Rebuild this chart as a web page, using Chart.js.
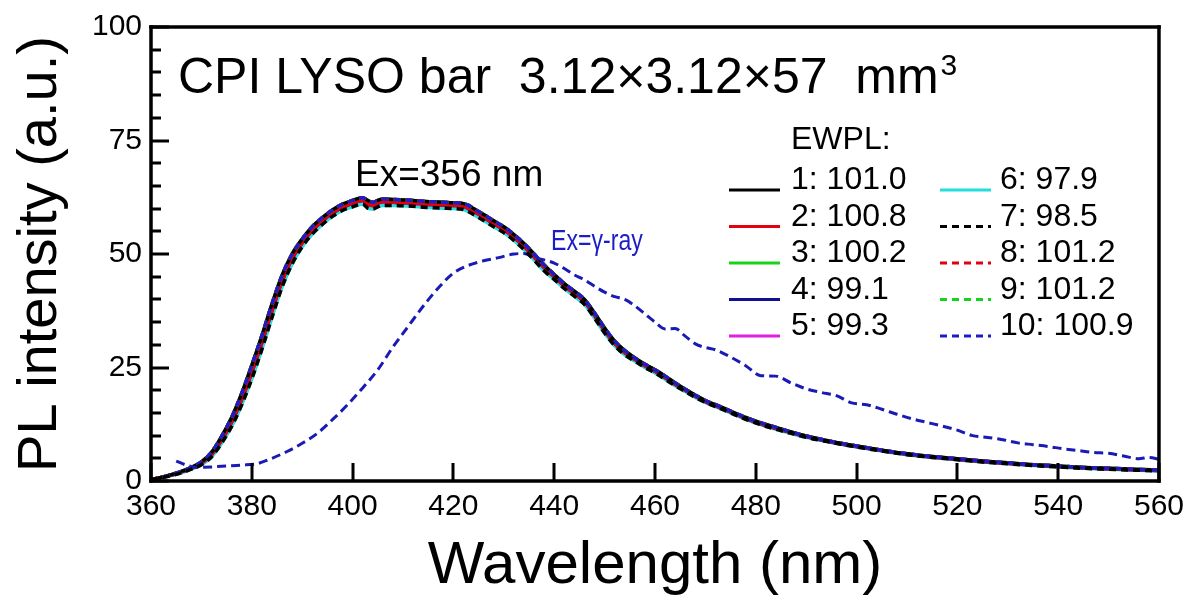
<!DOCTYPE html>
<html>
<head>
<meta charset="utf-8">
<title>CPI LYSO PL spectra</title>
<script src="https://cdn.jsdelivr.net/npm/chart.js@4.4.0/dist/chart.umd.min.js"></script>
<style>
  body { margin: 0; background: #fff; }
</style>
</head>
<body>
<canvas id="myChart" width="1192" height="605"></canvas>
<script>
// PL spectra, Ex=356 nm, ten bars (they nearly overlap)
const wavelengths = [360,362,364,366,368, 370,372,374,376,378, 380,382,384,386,388, 390,392,394,396,398,
  400,401,402,403,404, 405,406,408,410,412, 414,416,418,420,422, 423,424,426,428,430,
  432,434,436,438,440, 442,444,446,448,450, 452,454,456,458,460, 462,464,466,468,470,
  472,475,478,481,484, 487,490,495,500,505, 510,515,520,525,530, 535,540,545,550,555, 560];

const plUpper = [0.3,0.8,1.4,2.1,3.0, 4.2,6.3,9.8,14.0,19.3, 25.5,32.0,39.0,45.3,50.0, 53.3,56.0,58.0,59.7,61.0,
  61.8,62.2,62.4,61.8,61.4, 61.8,62.1,62.0,61.9,61.8, 61.6,61.5,61.4,61.3,61.1, 60.7,60.0,58.7,57.3,56.0,
  54.3,52.3,50.0,47.6,45.5, 43.5,41.8,40.0,37.0,33.7, 30.8,28.7,27.1,25.7,24.5, 23.1,21.6,20.2,18.9,17.7,
  16.8,15.4,14.0,12.8,11.8, 10.8,9.9,8.7,7.7,6.8, 6.0,5.4,4.9,4.4,4.0, 3.6,3.3,3.0,2.8,2.6, 2.4];

const plMiddle = [0.3,0.8,1.3,2.0,2.8, 3.9,5.8,9.0,13.0,18.0, 24.0,30.5,37.5,44.0,49.0, 52.5,55.2,57.3,59.0,60.3,
  61.2,61.6,61.8,61.0,60.7, 61.2,61.5,61.4,61.3,61.2, 61.0,60.9,60.8,60.7,60.5, 60.0,59.4,58.1,56.7,55.4,
  53.7,51.7,49.4,47.0,45.0, 43.0,41.3,39.5,36.5,33.2, 30.3,28.3,26.8,25.4,24.2, 22.8,21.3,20.0,18.7,17.5,
  16.6,15.2,13.8,12.6,11.6, 10.7,9.8,8.6,7.6,6.7, 5.9,5.3,4.8,4.3,3.9, 3.5,3.2,2.9,2.7,2.5, 2.3];

const plLower = [0.3,0.7,1.2,1.8,2.6, 3.6,5.3,8.3,12.0,16.8, 22.5,29.0,36.0,42.7,47.8, 51.6,54.4,56.5,58.3,59.6,
  60.4,60.8,61.0,60.1,59.9, 60.4,60.7,60.7,60.6,60.5, 60.3,60.2,60.1,60.0,59.8, 59.3,58.7,57.4,56.0,54.7,
  53.0,51.0,48.7,46.3,44.4, 42.4,40.7,38.9,35.9,32.6, 29.8,27.8,26.4,25.0,23.8, 22.4,21.0,19.7,18.4,17.3,
  16.4,15.0,13.6,12.4,11.4, 10.5,9.6,8.5,7.5,6.6, 5.8,5.2,4.7,4.2,3.8, 3.4,3.1,2.8,2.6,2.4, 2.2];

// gamma-ray excited emission
const gammaWavelengths = [365,367,369,372,375, 378,381,384,387,390, 393,396,399,402,405, 408,411,414,417,420,
  423,426,429,432,434, 436,438,440,442,444, 446,448,450,452,454, 456,458,460,462,464,
  466,468,470,472,475, 478,481,484,487,490, 493,496,499,502,505, 508,511,514,517,520,
  523,526,529,532,535, 538,541,544,547,550, 553,556,558,560];

const gammaPL = [4.4,3.5,3.0,3.1,3.3, 3.5,3.8,5.0,6.5,8.3, 10.5,13.5,16.8,20.5,24.5, 29.5,34.0,38.5,42.5,45.8,
  47.5,48.5,49.2,50.0,50.1, 49.2,48.7,48.0,46.8,45.4, 44.3,42.9,41.6,40.6,40.0, 38.6,36.8,35.0,33.5,33.6,
  31.9,30.2,29.4,28.9,27.3, 25.4,23.2,23.1,21.6,20.3, 19.5,18.8,17.2,16.8,15.8, 14.7,13.7,12.9,12.1,11.2,
  10.0,9.6,9.1,8.4,8.0, 7.6,7.1,6.7,6.3,6.1, 5.5,4.9,5.2,4.8];

const ewplLabels = ['1: 101.0','2: 100.8','3: 100.2','4: 99.1','5: 99.3','6: 97.9','7: 98.5','8: 101.2','9: 101.2','10: 100.9'];
const xTickValues = [360,380,400,420,440,460,480,500,520,540,560];
const yTickValues = [0,25,50,75,100];

// which of the three measured bundle curves each bar follows
const seriesCurve = [plUpper, plMiddle, plUpper, plMiddle, plMiddle, plLower, plLower, plUpper, plUpper, plUpper];
const seriesColor = ['#000000','#e3000f','#16d416','#101090','#e020e0','#22dede','#000000','#e3000f','#16d416','#1c1cc8'];
const dashed = [7, 5];
const seriesDash = [[],[],[],[],[],[],dashed,dashed,dashed,dashed];
// lower order is painted on top
const seriesOrder = [2, 2, 2, 2, 2, 3, 0, 1, 1, 0];

const FONT = '"Liberation Sans", Arial, sans-serif';

function toPoints(xs, ys){
    return xs.map((x, i) => ({x: x, y: ys[i]}));
}

const decorations = {
  id: 'decorations',
  afterDraw(chart){
    const ctx = chart.ctx;
    const area = chart.chartArea;
    const xs = chart.scales.x;
    const ys = chart.scales.y;
    ctx.save();
    ctx.setLineDash([]);
    ctx.fillStyle = '#000';

    // inward tick marks
    xs.ticks.forEach(t => {
        const px = Math.round(xs.getPixelForValue(t.value));
        ctx.fillRect(px - 1.5, area.bottom - 18, 3, 18);
    });
    ys.ticks.forEach(t => {
        const py = Math.round(ys.getPixelForValue(t.value));
        const len = yTickValues.includes(t.value) ? 18 : 10;
        ctx.fillRect(area.left, py - 1.5, len, 3);
    });

    // frame
    const w = 3.5;
    ctx.fillRect(area.left - w / 2, area.top - w / 2, area.right - area.left + w, w);
    ctx.fillRect(area.left - w / 2, area.bottom - w / 2, area.right - area.left + w, w);
    ctx.fillRect(area.left - w / 2, area.top - w / 2, w, area.bottom - area.top + w);
    ctx.fillRect(area.right - w / 2, area.top - w / 2, w, area.bottom - area.top + w);

    // title with superscript
    ctx.textBaseline = 'alphabetic';
    ctx.font = '50px ' + FONT;
    const title = 'CPI LYSO bar  3.12\u00d73.12\u00d757  mm';
    ctx.fillText(title, 178, 93);
    const tw = ctx.measureText(title).width;
    ctx.font = '30px ' + FONT;
    ctx.fillText('3', 178 + tw + 2, 75);

    // curve annotations
    ctx.font = '37px ' + FONT;
    ctx.fillText('Ex=356 nm', 355, 186);
    ctx.save();
    ctx.fillStyle = '#1c1cc8';
    ctx.font = '30px ' + FONT;
    ctx.translate(551, 250);
    ctx.scale(0.77, 1);
    ctx.fillText('Ex=\u03b3-ray', 0, 0);
    ctx.restore();

    // legend, two columns of five
    ctx.font = '32px ' + FONT;
    ctx.fillText('EWPL:', 791, 149);
    ewplLabels.forEach((lab, i) => {
        const col = i < 5 ? 0 : 1;
        const row = i % 5;
        const y = 189 + row * 36.5;
        const lx = col == 0 ? 729 : 940;
        const tx = col == 0 ? 791 : 1000;
        ctx.strokeStyle = seriesColor[i];
        ctx.lineWidth = 3;
        ctx.setLineDash(seriesDash[i]);
        ctx.beginPath();
        ctx.moveTo(lx, y + 1);
        ctx.lineTo(lx + 51, y + 1);
        ctx.stroke();
        ctx.setLineDash([]);
        ctx.fillText(lab, tx, y);
    });
    ctx.restore();
  }
};

chartIt();

function chartIt(){
    const ctx = document.getElementById('myChart');
    const datasets = [];
    for (let i = 0; i < 10; i++){
        datasets.push({
            label: ewplLabels[i],
            data: toPoints(wavelengths, seriesCurve[i]),
            borderColor: seriesColor[i],
            borderDash: seriesDash[i],
            borderWidth: 3.5,
            pointRadius: 0,
            cubicInterpolationMode: 'monotone',
            order: seriesOrder[i]
        });
    }
    datasets.push({
        label: 'Ex=gamma-ray',
        data: toPoints(gammaWavelengths, gammaPL),
        borderColor: '#1a1ab4',
        borderDash: [9, 5],
        borderWidth: 3,
        pointRadius: 0,
        cubicInterpolationMode: 'monotone',
        order: 0
    });

    const myChart = new Chart(ctx, {
    type: 'line',
    data: { datasets: datasets },
    plugins: [decorations],
    options: {
        responsive: false,
        animation: false,
        layout: { padding: { left: 0, top: 25, right: 30, bottom: 0 } },
        plugins: { legend: { display: false }, tooltip: { enabled: false } },
        scales: {
        x: {
            type: 'linear',
            min: 360,
            max: 560,
            afterFit: s => { s.height = 124; },
            afterBuildTicks: s => { s.ticks = xTickValues.map(v => ({value: v})); },
            grid: { display: false, drawTicks: false },
            border: { display: false },
            ticks: { color: '#000', padding: 8, font: { family: FONT, size: 30 }, maxRotation: 0 },
            title: { display: true, text: 'Wavelength (nm)', color: '#000', font: { family: FONT, size: 60 }, padding: { bottom: 3 } }
        },
        y: {
            min: 0,
            max: 100,
            afterFit: s => { s.width = 151; },
            grid: { display: false, drawTicks: false },
            border: { display: false },
            ticks: {
                stepSize: 5,
                autoSkip: false,
                color: '#000',
                padding: 9,
                font: { family: FONT, size: 30 },
                callback: v => yTickValues.includes(v) ? v : ''
            },
            title: { display: true, text: 'PL intensity (a.u.)', color: '#000', font: { family: FONT, size: 56 }, padding: { top: 7 } }
        }
        }
    }
    });
}
</script>
</body>
</html>
